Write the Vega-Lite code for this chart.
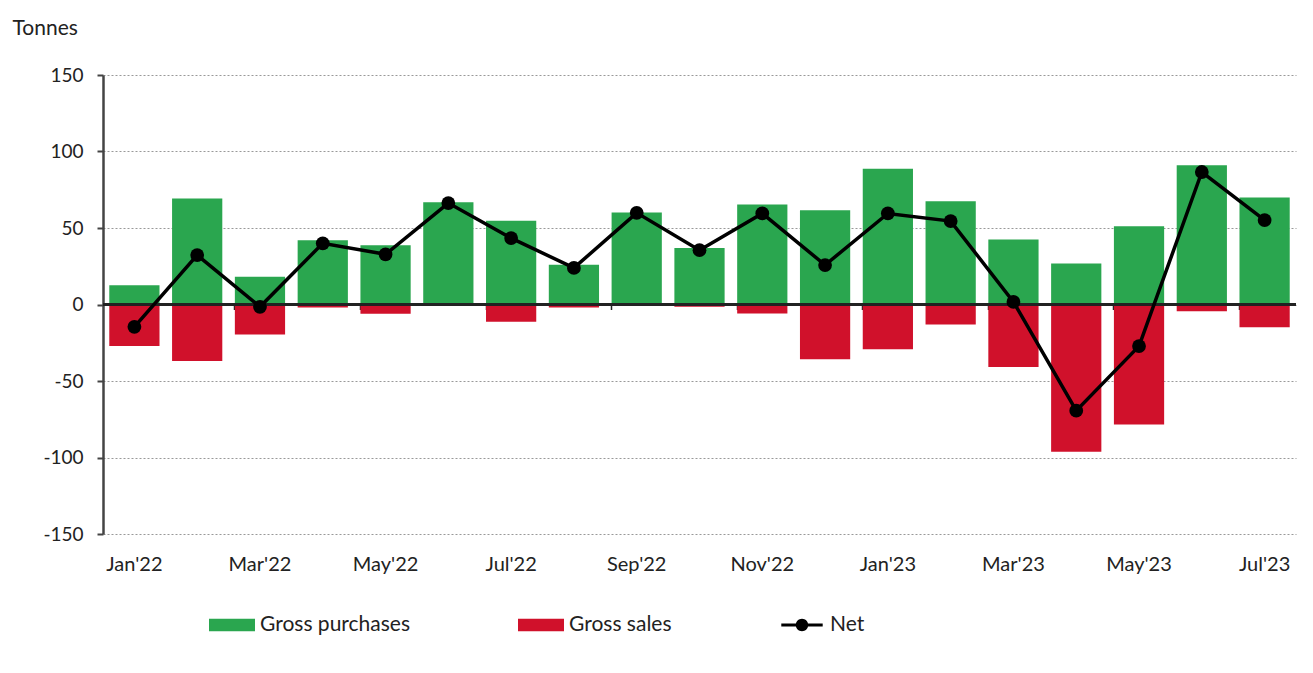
{
  "$schema": "https://vega.github.io/schema/vega-lite/v6.json",
  "width": 1193,
  "height": 459,
  "autosize": {"type": "none"},
  "padding": {"left": 103, "top": 75, "right": 17, "bottom": 139},
  "background": "white",
  "config": {
    "view": {"stroke": null},
    "font": "Lato",
    "axis": {"labelFont": "Lato", "titleFont": "Lato", "labelColor": "#222", "titleColor": "#222"},
    "legend": {"labelFont": "Lato", "labelColor": "#222", "padding": 0}
  },
  "data": {
    "values": [
      {"m": "Jan'22", "s": "Gross purchases", "v": 12.6}, {"m": "Jan'22", "s": "Gross sales", "v": -27.2}, {"m": "Jan'22", "s": "Net", "v": -14.6},
      {"m": "Feb'22", "s": "Gross purchases", "v": 69.3}, {"m": "Feb'22", "s": "Gross sales", "v": -37.0}, {"m": "Feb'22", "s": "Net", "v": 32.3},
      {"m": "Mar'22", "s": "Gross purchases", "v": 18.1}, {"m": "Mar'22", "s": "Gross sales", "v": -19.6}, {"m": "Mar'22", "s": "Net", "v": -1.5},
      {"m": "Apr'22", "s": "Gross purchases", "v": 42.0}, {"m": "Apr'22", "s": "Gross sales", "v": -2.0}, {"m": "Apr'22", "s": "Net", "v": 40.0},
      {"m": "May'22", "s": "Gross purchases", "v": 38.8}, {"m": "May'22", "s": "Gross sales", "v": -6.0}, {"m": "May'22", "s": "Net", "v": 32.8},
      {"m": "Jun'22", "s": "Gross purchases", "v": 66.8}, {"m": "Jun'22", "s": "Gross sales", "v": -0.5}, {"m": "Jun'22", "s": "Net", "v": 66.3},
      {"m": "Jul'22", "s": "Gross purchases", "v": 54.7}, {"m": "Jul'22", "s": "Gross sales", "v": -11.3}, {"m": "Jul'22", "s": "Net", "v": 43.4},
      {"m": "Aug'22", "s": "Gross purchases", "v": 25.9}, {"m": "Aug'22", "s": "Gross sales", "v": -2.0}, {"m": "Aug'22", "s": "Net", "v": 23.9},
      {"m": "Sep'22", "s": "Gross purchases", "v": 60.2}, {"m": "Sep'22", "s": "Gross sales", "v": -0.3}, {"m": "Sep'22", "s": "Net", "v": 59.9},
      {"m": "Oct'22", "s": "Gross purchases", "v": 37.0}, {"m": "Oct'22", "s": "Gross sales", "v": -1.5}, {"m": "Oct'22", "s": "Net", "v": 35.5},
      {"m": "Nov'22", "s": "Gross purchases", "v": 65.4}, {"m": "Nov'22", "s": "Gross sales", "v": -5.9}, {"m": "Nov'22", "s": "Net", "v": 59.5},
      {"m": "Dec'22", "s": "Gross purchases", "v": 61.6}, {"m": "Dec'22", "s": "Gross sales", "v": -35.8}, {"m": "Dec'22", "s": "Net", "v": 25.8},
      {"m": "Jan'23", "s": "Gross purchases", "v": 88.7}, {"m": "Jan'23", "s": "Gross sales", "v": -29.2}, {"m": "Jan'23", "s": "Net", "v": 59.5},
      {"m": "Feb'23", "s": "Gross purchases", "v": 67.5}, {"m": "Feb'23", "s": "Gross sales", "v": -13.0}, {"m": "Feb'23", "s": "Net", "v": 54.5},
      {"m": "Mar'23", "s": "Gross purchases", "v": 42.5}, {"m": "Mar'23", "s": "Gross sales", "v": -40.8}, {"m": "Mar'23", "s": "Net", "v": 1.7},
      {"m": "Apr'23", "s": "Gross purchases", "v": 26.8}, {"m": "Apr'23", "s": "Gross sales", "v": -96.2}, {"m": "Apr'23", "s": "Net", "v": -69.4},
      {"m": "May'23", "s": "Gross purchases", "v": 51.2}, {"m": "May'23", "s": "Gross sales", "v": -78.4}, {"m": "May'23", "s": "Net", "v": -27.2},
      {"m": "Jun'23", "s": "Gross purchases", "v": 91.0}, {"m": "Jun'23", "s": "Gross sales", "v": -4.4}, {"m": "Jun'23", "s": "Net", "v": 86.6},
      {"m": "Jul'23", "s": "Gross purchases", "v": 70.0}, {"m": "Jul'23", "s": "Gross sales", "v": -14.8}, {"m": "Jul'23", "s": "Net", "v": 55.2}
    ]
  },
  "encoding": {
    "y": {
      "field": "v",
      "type": "quantitative",
      "scale": {"domain": [-150, 150], "nice": false, "zero": false},
      "axis": {
        "values": [-150, -100, -50, 0, 50, 100, 150],
        "labelExpr": "replace(datum.label, '\u2212', '-')",
        "title": "Tonnes",
        "titleAngle": 0,
        "titleAlign": "left",
        "titleBaseline": "alphabetic",
        "titleX": -91,
        "titleY": -41,
        "titleFontSize": 21,
        "titleFontWeight": "normal",
        "labelFontSize": 19,
        "labelPadding": 14,
        "domain": true,
        "domainColor": "#444",
        "domainWidth": 2.5,
        "ticks": true,
        "tickSize": 6,
        "tickColor": "#444",
        "tickWidth": 2,
        "grid": true,
        "gridColor": "#999",
        "gridDash": [2, 2],
        "gridWidth": 1
      }
    }
  },
  "layer": [
    {
      "transform": [{"filter": "datum.s !== 'Net'"}],
      "mark": {"type": "bar"},
      "encoding": {
        "x": {
          "field": "m",
          "type": "nominal",
          "scale": {"domain": ["Jan'22","Feb'22","Mar'22","Apr'22","May'22","Jun'22","Jul'22","Aug'22","Sep'22","Oct'22","Nov'22","Dec'22","Jan'23","Feb'23","Mar'23","Apr'23","May'23","Jun'23","Jul'23"], "paddingInner": 0.2, "paddingOuter": 0.1},
          "axis": {
            "orient": "bottom",
            "values": ["Jan'22","Mar'22","May'22","Jul'22","Sep'22","Nov'22","Jan'23","Mar'23","May'23","Jul'23"],
            "title": null,
            "labelAngle": 0,
            "labelFontSize": 20,
            "labelPadding": 20,
            "domain": false,
            "ticks": false,
            "grid": false
          }
        },
        "color": {
          "field": "s",
          "type": "nominal",
          "scale": {"domain": ["Gross purchases", "Gross sales", "Net"], "range": ["#2aa64f", "#d0112b", "#000000"]},
          "legend": {
            "orient": "none",
            "legendX": 106,
            "legendY": 527,
            "direction": "horizontal",
            "title": null,
            "labelFontSize": 21,
            "symbolSize": 2116,
            "columnPadding": 107,
            "labelOffset": 5,
            "symbolStrokeWidth": 0,
            "encode": {
              "symbols": {
                "update": {
                  "shape": {"signal": "datum.value === 'Net' ? 'M-0.9,-0.07H0.9V0.07H-0.9Z M0.27,0 A0.27,0.27 0 1,1 -0.27,0 A0.27,0.27 0 1,1 0.27,0Z' : 'M-1,-0.27H1V0.27H-1Z'"},
                  "size": {"value": 2116},
                  "opacity": {"value": 1},
                  "strokeWidth": {"value": 0}
                }
              }
            }
          }
        }
      }
    },
    {
      "mark": {"type": "rule", "color": "#222", "strokeWidth": 2},
      "encoding": {"y": {"datum": 0}}
    },
    {
      "transform": [{"filter": "datum.s === 'Net'"}],
      "mark": {"type": "line", "color": "#000", "strokeWidth": 3.5},
      "encoding": {
        "x": {
          "field": "m",
          "type": "nominal",
          "axis": {
            "orient": "bottom",
            "offset": -229.5,
            "values": ["Mar'22","May'22","Jul'22","Sep'22","Nov'22","Jan'23","Mar'23","May'23","Jul'23"],
            "bandPosition": 0,
            "title": null,
            "labels": false,
            "domain": false,
            "ticks": true,
            "tickSize": 5,
            "tickColor": "#222",
            "tickWidth": 1.5,
            "grid": false
          }
        }
      }
    },
    {
      "transform": [{"filter": "datum.s === 'Net'"}],
      "mark": {"type": "point", "shape": "circle", "filled": true, "size": 190, "opacity": 1},
      "encoding": {
        "x": {"field": "m", "type": "nominal", "axis": null},
        "color": {"field": "s", "type": "nominal"}
      }
    }
  ],
  "resolve": {"axis": {"x": "independent"}}
}
